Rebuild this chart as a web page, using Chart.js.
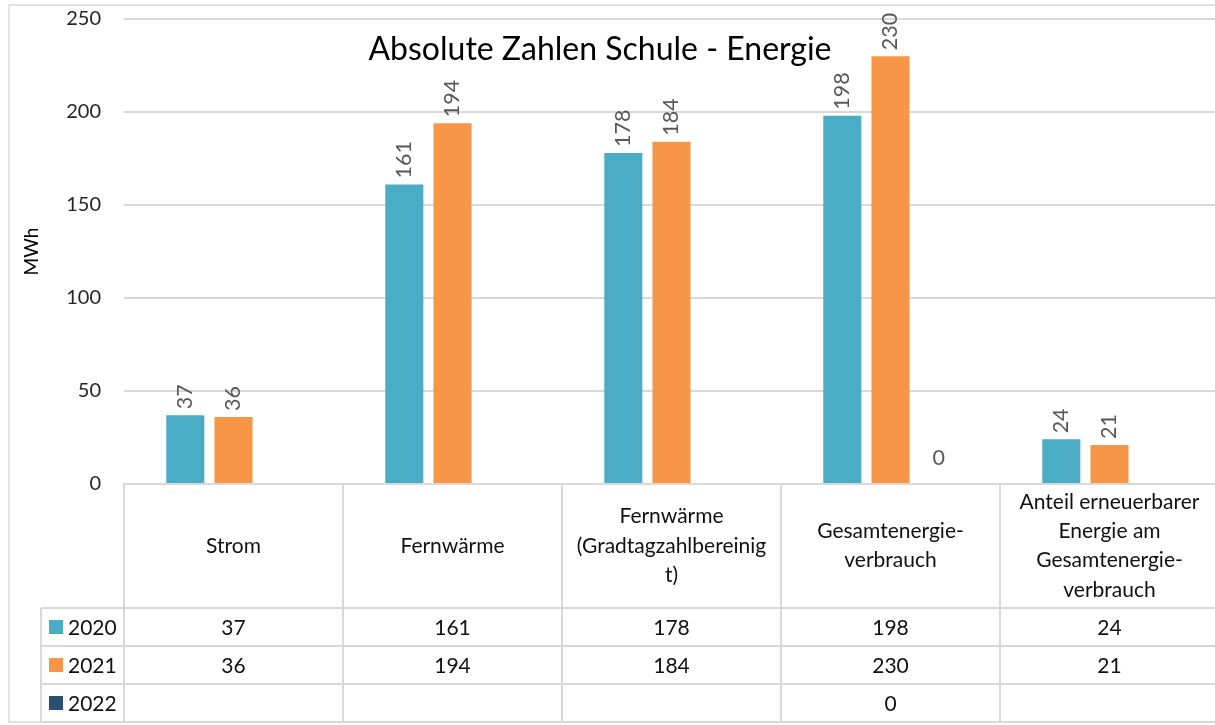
<!DOCTYPE html>
<html>
<head>
<meta charset="utf-8">
<script src="https://cdn.jsdelivr.net/npm/chart.js@4/dist/chart.umd.min.js"></script>
<style>
html,body{margin:0;padding:0;background:#fff;overflow:hidden;}
#wrap{position:relative;width:1219px;height:725px;}
</style>
</head>
<body>
<div id="wrap"><canvas id="c"></canvas></div>
<script>
const categories = [
  ['Strom'],
  ['Fernwärme'],
  ['Fernwärme', '(Gradtagzahlbereinig', 't)'],
  ['Gesamtenergie-', 'verbrauch'],
  ['Anteil erneuerbarer', 'Energie am', 'Gesamtenergie-', 'verbrauch']
];
const seriesNames = ['2020', '2021', '2022'];
const values2020 = [37, 161, 178, 198, 24];
const values2021 = [36, 194, 184, 230, 21];
const values2022 = [null, null, null, 0, null];
const seriesColors = ['#4BACC6', '#F79646', '#2C4D75'];
const yTicks = [0, 50, 100, 150, 200, 250];
const chartTitle = 'Absolute Zahlen Schule - Energie';
const yTitle = 'MWh';

const FONT = 'Lato, "Open Sans", sans-serif';
const allSeries = [values2020, values2021, values2022];

const tablePlugin = {
  id: 'tablePlugin',
  afterDraw(chart) {
    const ctx = chart.ctx;
    const xs = chart.scales.x;
    const area = chart.chartArea;
    const n = categories.length;
    const w = xs.width / n;
    const top = area.bottom;
    const hdrBottom = 608;
    const rowH = 38;
    const tblBottom = hdrBottom + rowH * 3;
    const legendLeft = 41;
    ctx.save();
    // data labels
    ctx.fillStyle = '#595959';
    ctx.font = '21.5px ' + FONT;
    chart.data.datasets.forEach((ds, di) => {
      const meta = chart.getDatasetMeta(di);
      meta.data.forEach((el, i) => {
        const v = ds.data[i];
        if (v === null || v === undefined) return;
        if (v === 0) {
          ctx.textAlign = 'center';
          ctx.textBaseline = 'middle';
          ctx.fillText(String(v), el.x, el.y - 26);
        } else {
          ctx.save();
          ctx.translate(el.x, el.y - 6);
          ctx.rotate(-Math.PI / 2);
          ctx.textAlign = 'left';
          ctx.textBaseline = 'middle';
          ctx.fillText(String(v), 0, 0);
          ctx.restore();
        }
      });
    });
    // title
    ctx.fillStyle = '#000';
    ctx.font = '32px ' + FONT;
    ctx.textAlign = 'center';
    ctx.textBaseline = 'alphabetic';
    ctx.fillText(chartTitle, 600, 60);
    // y title
    ctx.save();
    ctx.translate(32, (area.top + area.bottom) / 2);
    ctx.rotate(-Math.PI / 2);
    ctx.font = '19px ' + FONT;
    ctx.textAlign = 'center';
    ctx.textBaseline = 'middle';
    ctx.fillStyle = '#000';
    ctx.fillText(yTitle, 0, 0);
    ctx.restore();
    // table lines
    ctx.strokeStyle = '#D9D9D9';
    ctx.lineWidth = 2;
    ctx.beginPath();
    for (let i = 0; i <= n; i++) {
      const x = Math.round(xs.left + i * w);
      ctx.moveTo(x, top);
      ctx.lineTo(x, tblBottom);
    }
    for (let r = 0; r <= 3; r++) {
      const y = hdrBottom + r * rowH;
      ctx.moveTo(legendLeft, y);
      ctx.lineTo(xs.right, y);
    }
    ctx.moveTo(legendLeft, hdrBottom);
    ctx.lineTo(legendLeft, tblBottom);
    ctx.stroke();
    // header text
    ctx.fillStyle = '#111';
    ctx.font = '21px ' + FONT;
    ctx.textAlign = 'center';
    ctx.textBaseline = 'middle';
    const lh = 29.3;
    const hc = (top + hdrBottom) / 2;
    categories.forEach((lines, i) => {
      const cx = xs.left + (i + 0.5) * w;
      lines.forEach((ln, k) => {
        ctx.fillText(ln, cx, hc + (k - (lines.length - 1) / 2) * lh);
      });
    });
    // rows
    seriesNames.forEach((name, r) => {
      const cy = hdrBottom + r * rowH + rowH / 2;
      ctx.fillStyle = seriesColors[r];
      ctx.fillRect(49, cy - 7, 14, 14);
      ctx.fillStyle = '#111';
      ctx.textAlign = 'left';
      ctx.fillText(name, 68, cy + 1);
      ctx.textAlign = 'center';
      allSeries[r].forEach((v, i) => {
        if (v === null || v === undefined) return;
        ctx.fillText(String(v), xs.left + (i + 0.5) * w, cy + 1);
      });
    });
    // outer border
    ctx.lineWidth = 1.5;
    ctx.strokeRect(9, 5, 1230, 717);
    ctx.restore();
  }
};

new Chart(document.getElementById('c'), {
  type: 'bar',
  data: {
    labels: categories,
    datasets: seriesNames.map((name, i) => ({
      label: name,
      data: allSeries[i],
      backgroundColor: seriesColors[i],
      borderWidth: 0,
      categoryPercentage: 0.66,
      barPercentage: 0.79
    }))
  },
  options: {
    responsive: true,
    maintainAspectRatio: false,
    animation: false,
    layout: { padding: { top: 19, left: 0, right: 0, bottom: 0 } },
    plugins: { legend: { display: false }, tooltip: { enabled: false }, title: { display: false } },
    scales: {
      x: {
        ticks: { display: false },
        grid: { display: false, drawTicks: false },
        border: { display: true, color: '#D9D9D9', width: 2 },
        afterFit(s) { s.height = 241; s.paddingLeft = 0; s.paddingRight = 0; }
      },
      y: {
        min: 0,
        max: 250,
        afterBuildTicks(s) { s.ticks = yTicks.map(v => ({ value: v })); },
        ticks: { font: { size: 20, family: FONT }, color: '#262626', padding: 23 },
        grid: { color: '#D9D9D9', lineWidth: 2, drawTicks: false },
        border: { display: false },
        afterFit(s) { s.width = 124; s.paddingTop = 0; s.paddingBottom = 0; }
      }
    }
  },
  plugins: [tablePlugin]
});
</script>
</body>
</html>
